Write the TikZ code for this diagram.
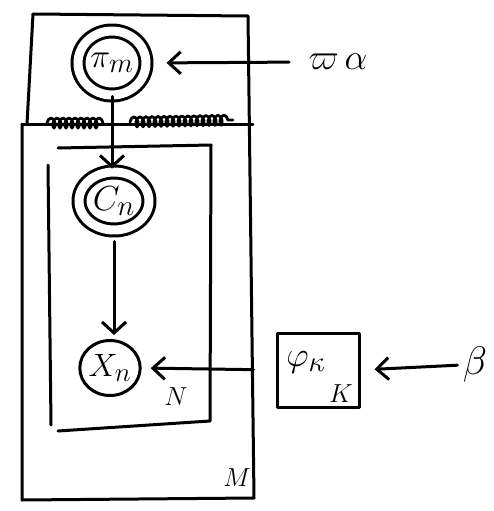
\documentclass[tikz,border=0pt]{standalone}
\usetikzlibrary{arrows.meta,shapes.geometric,decorations.pathmorphing}
\newcommand\bgtxt[2]{\scalebox{#1}{\Huge #2}}
\begin{document}
\begin{tikzpicture}[x=1pt,y=-1pt,line width=3pt,line cap=round,line join=round,
  lbl/.style={inner sep=0pt},
  dblnode/.style={ellipse,draw,double,double distance=9pt,inner sep=0pt},
  snode/.style={ellipse,draw,inner sep=0pt},
  vtip/.style={-{Straight Barb[length=11pt,width=24pt,line width=3pt]}},
  ctip/.style={-{Straight Barb[length=12pt,width=22pt,line width=3pt]}},
  scrib/.style={decorate,decoration={coil,amplitude=5pt,segment length=6pt},line width=2.8pt}]
\useasboundingbox (0,0) rectangle (493,511);
% outer plate M
\draw (33,14) -- (248,16) -- (254,498) -- (22,500) -- (22,124);
\draw (33,14) -- (27,124);
\draw (22,124) -- (253,124);
\draw[scrib] (47,123) -- (103,123);
\draw[scrib] (130,122) -- (233,120);
% inner plate N
\draw (58,148) -- (211,145) -- (210,421) -- (58,431);
\draw (48,165) -- (51,425);
% nodes
\node[dblnode,minimum width=68pt,minimum height=64pt] (pi) at (112,63) {\bgtxt{1.35}{$\pi_m$}};
\node[dblnode,minimum width=70pt,minimum height=58pt] (c) at (114,201) {\bgtxt{1.4}{$C_n$}};
\node[snode,minimum width=58pt,minimum height=55pt] (x) at (110,368) {\bgtxt{1.3}{$X_n$}};
\node[lbl] (alpha) at (338,62) {\bgtxt{1.45}{$\varpi\,\alpha$}};
\node[draw,minimum width=82pt,minimum height=74pt,inner sep=0pt] (phi) at (318,370) {};
\node[lbl] (phil) at (306,362) {\bgtxt{1.4}{$\varphi_\kappa$}};
\node[lbl] (kl) at (341,394) {\bgtxt{1.05}{$K$}};
\node[lbl] (beta) at (475,365) {\bgtxt{1.6}{$\beta$}};
\node[lbl] (nl) at (176,397) {\bgtxt{1.05}{$N$}};
\node[lbl] (ml) at (237,478) {\bgtxt{1.05}{$M$}};
% edges
\draw[vtip,shorten >=2pt] (pi.south) -- (pi.south |- c.north);
\draw[vtip,shorten <=10pt,shorten >=4pt] (c.south) -- (c.south |- x.north);
\draw[ctip,shorten <=18pt,shorten >=19pt] (alpha.west) -- (pi.east);
\draw[ctip,shorten <=22pt,shorten >=9pt] (phi.west) -- (x.east);
\draw[ctip,shorten <=4pt,shorten >=14pt] (beta.west) -- (phi.east);
\end{tikzpicture}
\end{document}
